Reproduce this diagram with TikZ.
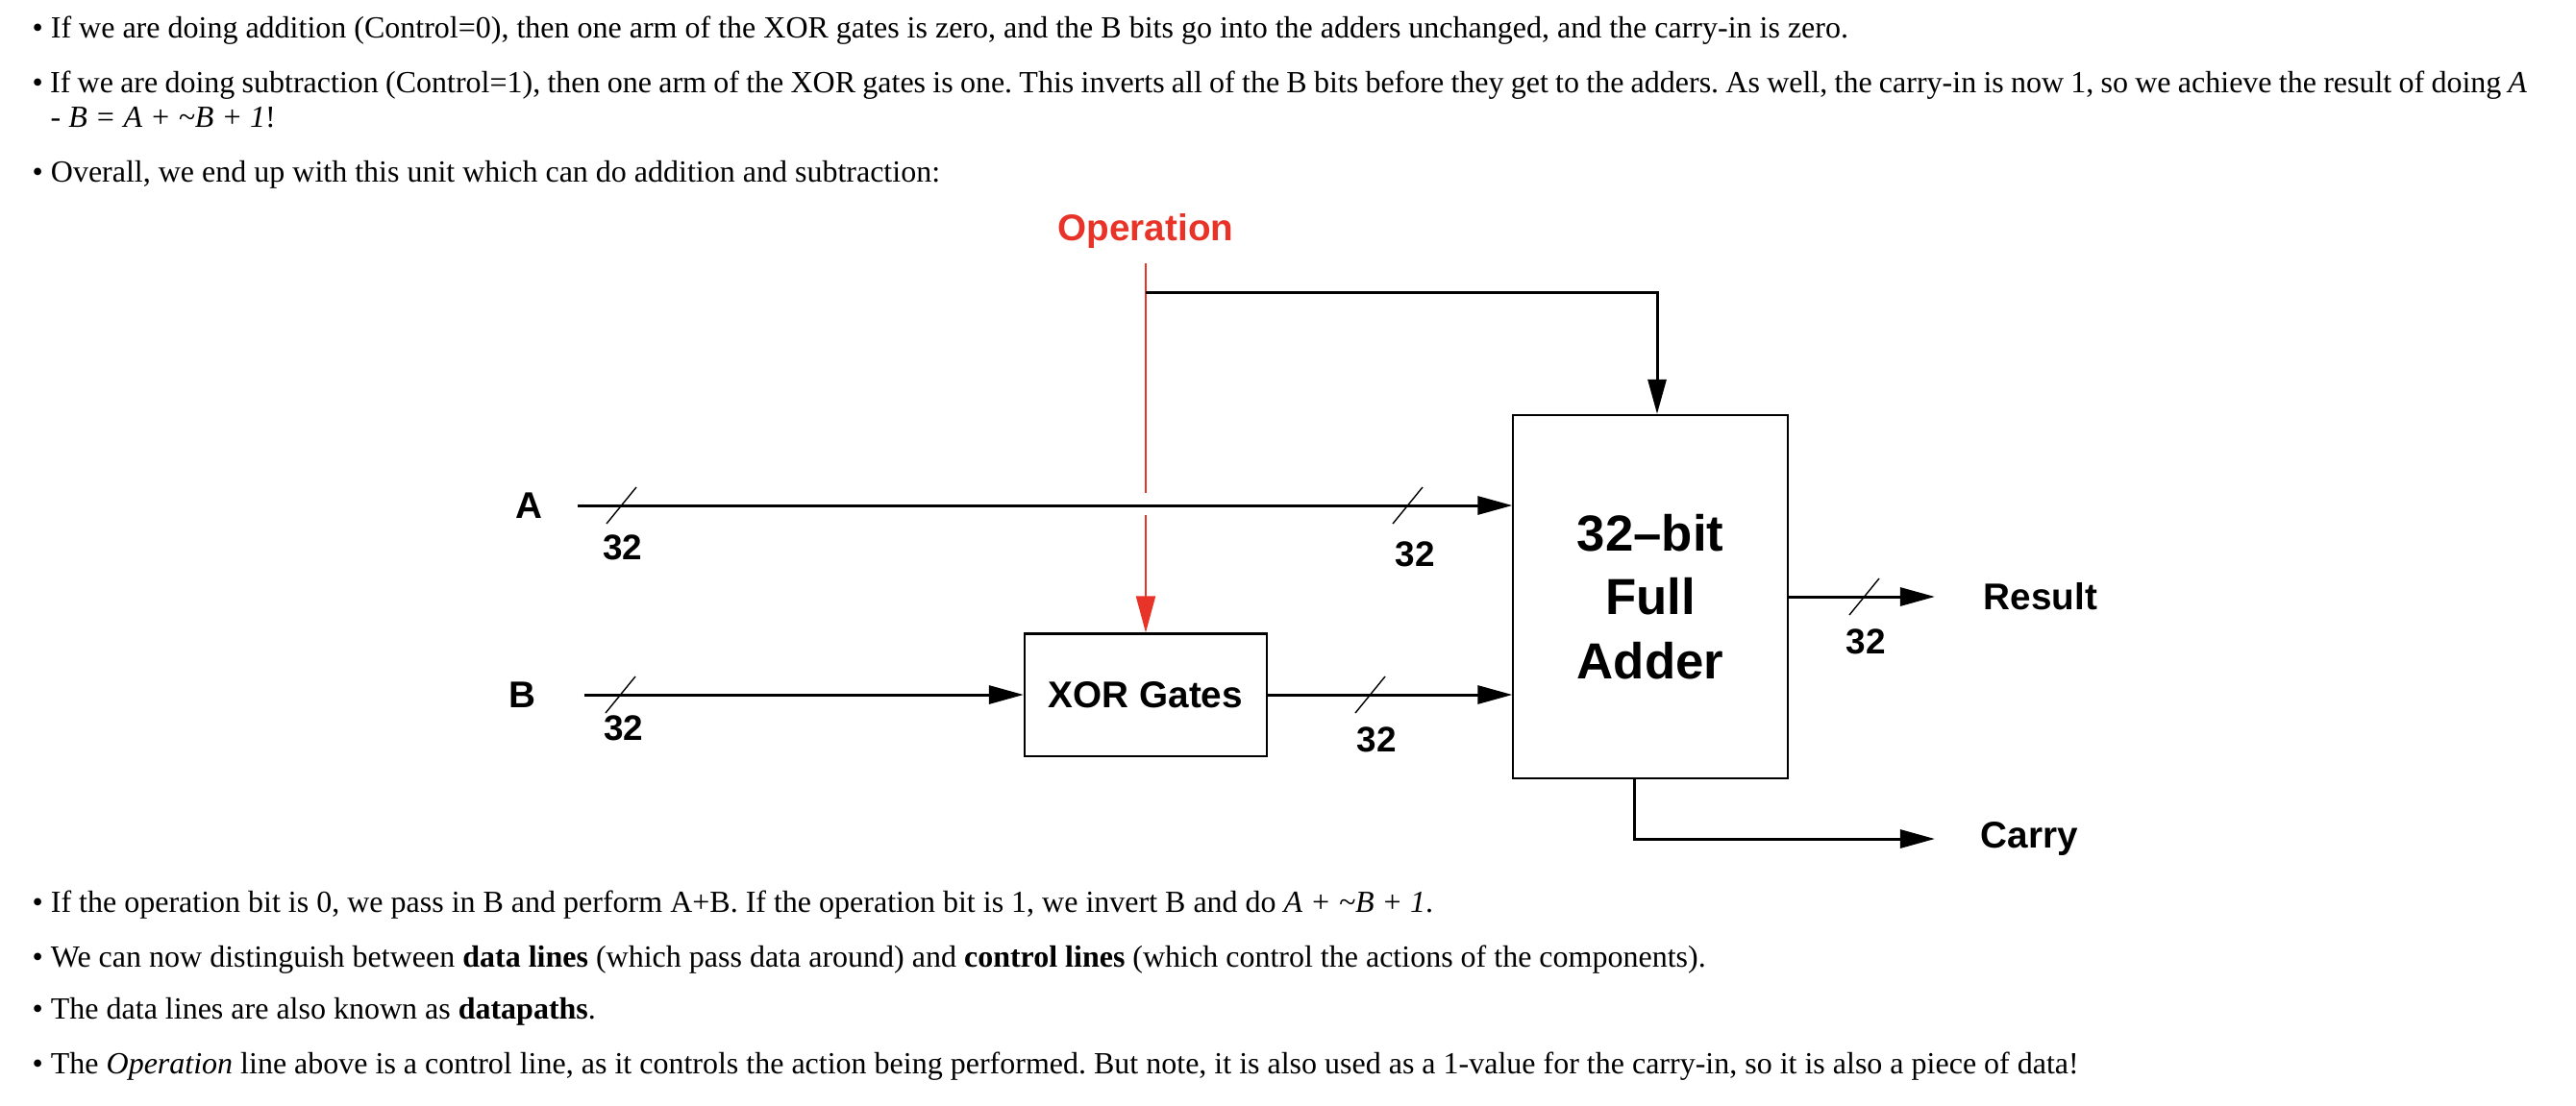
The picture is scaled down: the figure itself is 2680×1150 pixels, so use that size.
\documentclass[tikz,border=0pt]{standalone}
\usepackage{fontspec}
\setmainfont{Liberation Serif}
\newfontfamily\diagfont{Liberation Sans}
\usetikzlibrary{arrows.meta, positioning}
\definecolor{opred}{RGB}{232,52,40}
\frenchspacing

\begin{document}
\begin{tikzpicture}[
        x=0.01cm, y=-0.01cm,
        txt/.style={anchor=base west, inner sep=0pt, font=\fontsize{9.1}{11}\selectfont},
        lbl/.style={inner sep=0pt, font=\diagfont\bfseries\fontsize{11}{13}\selectfont},
        wid/.style={inner sep=0pt, font=\diagfont\bfseries\fontsize{10.5}{12}\selectfont},
        unit/.style={draw, line width=0.6pt, inner sep=0pt, align=center},
        bus/.style={line width=0.85pt, -{Triangle[length=0.36cm, width=0.19cm]}},
        tick/.style={line width=0.4pt},
        ctl/.style={opred, line width=0.6pt},
      ]
      \useasboundingbox (0,0) rectangle (2680,1150);
      % text above the figure
      \node[txt] (t1) at (33,39) {\textbullet\ If we are doing addition (Control=0), then one arm of the XOR gates is zero, and the B bits go into the adders unchanged, and the carry-in is zero.};
      \node[txt] (t2) at (33,96) {\spaceskip=2.06pt\textbullet\ If we are doing subtraction (Control=1), then one arm of the XOR gates is one. This inverts all of the B bits before they get to the adders. As well, the carry-in is now 1, so we achieve the result of doing \textit{A}};
      \node[txt] (t2b) at (52,132) {\textit{- B = A + \textasciitilde B + 1}!};
      \node[txt] (t3) at (33,189) {\textbullet\ Overall, we end up with this unit which can do addition and subtraction:};

      % the unit
      \node[lbl, opred] (op) at (1192,240) {Operation};
      \node[unit, minimum width=2.52cm, minimum height=1.27cm, font=\diagfont\bfseries\fontsize{11}{13}\selectfont] (xor) at (1192,723) {XOR Gates};
      \node[unit, minimum width=2.85cm, minimum height=3.78cm, font=\diagfont\bfseries\fontsize{15}{19}\selectfont] (add) at (1717,621) {32–bit\\Full\\Adder};
      \node[lbl] (A) at (550,526) {A};
      \node[lbl] (B) at (543,723) {B};
      \node[lbl, anchor=west] (res) at (2063,621) {Result};
      \node[lbl, anchor=west] (cy) at (2060,873) {Carry};
      \coordinate (jn) at (1192,304);
      \coordinate (gapa) at (1192,513);
      \coordinate (gapb) at (1192,536);

      \draw[ctl] ([yshift=-0.15cm]op.south) -- (gapa);
      \draw[ctl, -{Triangle[length=0.38cm, width=0.2cm]}] (gapb) -- (xor.north);
      \draw[bus] (jn) -| ([xshift=0.07cm]add.north);
      \draw[bus] ([xshift=0.36cm]A.east) -- (A -| add.west);
      \draw[bus] ([xshift=0.5cm]B.east) -- (xor.west);
      \draw[bus] (xor.east) -- (xor -| add.west);
      \draw[bus] (add.east |- res) -- ([xshift=-0.5cm]res.west);
      \draw[bus] ([xshift=-0.165cm]add.south) |- ([xshift=-0.47cm]cy.west);

      % bus widths
      \foreach \x/\y in {646/526, 1464/526, 645/723, 1425/723, 1939/621}
        \draw[tick] (\x,\y) ++(-15,19) -- ++(31,-38);
      \node[wid] (wa1) at (648,570) {32};
      \node[wid] (wa2) at (1472,577) {32};
      \node[wid] (wb1) at (649,758) {32};
      \node[wid] (wb2) at (1432,770) {32};
      \node[wid] (wr) at (1941,668) {32};

      % text below the figure
      \node[txt] (t4) at (33,949) {\textbullet\ If the operation bit is 0, we pass in B and perform A+B. If the operation bit is 1, we invert B and do \textit{A + \textasciitilde B + 1}.};
      \node[txt] (t5) at (33,1006) {\textbullet\ We can now distinguish between \textbf{data lines} (which pass data around) and \textbf{control lines} (which control the actions of the components).};
      \node[txt] (t6) at (33,1060) {\textbullet\ The data lines are also known as \textbf{datapaths}.};
      \node[txt] (t7) at (33,1117) {\textbullet\ The \textit{Operation} line above is a control line, as it controls the action being performed. But note, it is also used as a 1-value for the carry-in, so it is also a piece of data!};
    \end{tikzpicture}
\end{document}
